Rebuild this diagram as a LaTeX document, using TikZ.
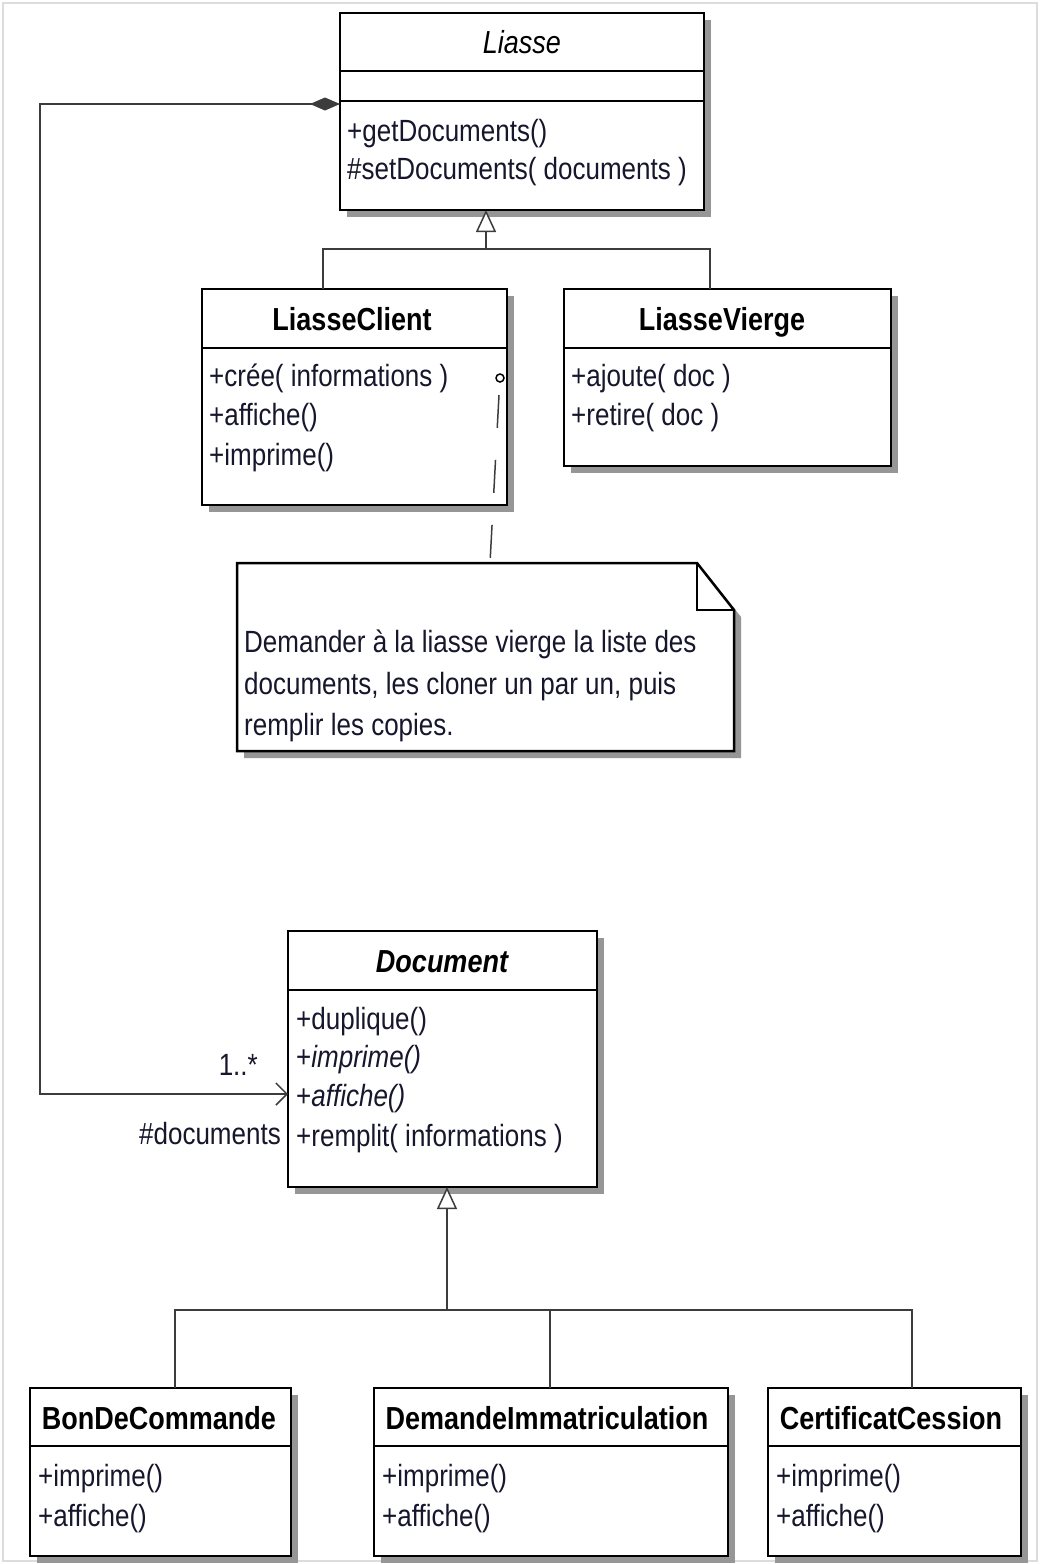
\documentclass[tikz,border=0pt]{standalone}
\usepackage{fontspec}
\usepackage{graphicx}
\setmainfont{Liberation Sans}
\usetikzlibrary{arrows.meta,calc,shadows}
\definecolor{shadowgray}{RGB}{150,150,150}
\definecolor{linegray}{RGB}{60,60,60}
\definecolor{framegray}{RGB}{220,220,220}
\definecolor{txt}{RGB}{22,22,44}
\newcommand{\methfont}{\fontsize{26}{39}\selectfont}
\newcommand{\titlefont}{\fontsize{27}{32}\selectfont}
\newcommand{\tall}[1]{\scalebox{1}[1.18]{#1}}
\newcommand{\umlbox}[5]{\node[classbox, minimum width=#4pt, minimum height=#5pt] (#1) at (#2,#3) {};}
\begin{document}
\begin{tikzpicture}[x=1pt,y=-1pt,
  classbox/.style={draw=black, line width=2.5pt, fill=white, anchor=north west, inner sep=0pt, outer sep=0pt,
    drop shadow={shadow xshift=7pt, shadow yshift=-7pt, fill=shadowgray, opacity=1}},
  divider/.style={draw=black, line width=2.5pt},
  title/.style={inner sep=0pt, font=\titlefont\bfseries, text=black, text height=27pt, text depth=4pt},
  ititle/.style={title, font=\titlefont\itshape},
  meth/.style={anchor=west, inner sep=0pt, font=\methfont, text=txt, text height=20.5pt, text depth=4.5pt},
  lbl/.style={meth, anchor=east},
  conn/.style={draw=linegray, line width=2pt},
  gen/.style={conn, -{Triangle[open, length=22pt, width=20pt, fill=white, line width=1.5pt]}},
  notelink/.style={draw=linegray, line width=1.5pt, dash pattern=on 33pt off 32pt}
]
\useasboundingbox (0,0) rectangle (1040,1564);
\fill[white] (0,0) rectangle (1040,1564);
\draw[framegray, line width=1.5pt] (3,3) rectangle (1037,1561);

% ---------- Liasse ----------
\umlbox{liasse}{340}{13}{364}{197}
\draw[divider] ($(liasse.north west)+(0,58)$) -- ($(liasse.north east)+(0,58)$);
\draw[divider] ($(liasse.north west)+(0,88)$) -- ($(liasse.north east)+(0,88)$);
\node[ititle] (liasseT) at (522,42) {\tall{Liasse}};
\node[meth] (liasseM1) at (347,133) {\tall{+getDocuments()}};
\node[meth] (liasseM2) at (347,171) {\tall{\#setDocuments( documents )}};

% ---------- LiasseClient ----------
\umlbox{lc}{202}{289}{305}{216}
\draw[divider] ($(lc.north west)+(0,59)$) -- ($(lc.north east)+(0,59)$);
\node[title] (lcT) at (352,319) {\tall{LiasseClient}};
\node[meth] (lcM1) at (209,378) {\tall{+crée( informations )}};
\node[meth] (lcM2) at (209,417) {\tall{+affiche()}};
\node[meth] (lcM3) at (209,457) {\tall{+imprime()}};

% ---------- LiasseVierge ----------
\umlbox{lv}{564}{289}{327}{177}
\draw[divider] ($(lv.north west)+(0,59)$) -- ($(lv.north east)+(0,59)$);
\node[title] (lvT) at (722,319) {\tall{LiasseVierge}};
\node[meth] (lvM1) at (571,378) {\tall{+ajoute( doc )}};
\node[meth] (lvM2) at (571,417) {\tall{+retire( doc )}};

% ---------- Note ----------
\node[anchor=north west, inner sep=0pt, outer sep=0pt, minimum width=497pt, minimum height=188pt] (note) at (237,563) {};
\fill[shadowgray] ($(note.north west)+(7,7)$) -- ($(note.north east)+(-30,7)$) -- ($(note.north east)+(7,54)$) -- ($(note.south east)+(7,7)$) -- ($(note.south west)+(7,7)$) -- cycle;
\filldraw[fill=white, draw=black, line width=2.5pt] (note.north west) -- ($(note.north east)+(-37,0)$) -- ($(note.north east)+(0,47)$) -- (note.south east) -- (note.south west) -- cycle;
\draw[black, line width=2pt] ($(note.north east)+(-37,0)$) -- ($(note.north east)+(-37,47)$) -- ($(note.north east)+(0,47)$);
\node[meth] (note1) at (244,644) {\tall{Demander à la liasse vierge la liste des}};
\node[meth] (note2) at (244,686) {\tall{documents, les cloner un par un, puis}};
\node[meth] (note3) at (244,727) {\tall{remplir les copies.}};

% note link
\node[circle, draw=black, line width=1.5pt, fill=white, inner sep=0pt, minimum size=8pt] (anchorpt) at (500,378) {};
\coordinate (noteTop) at (490,563);
\coordinate (linkStart) at (499,395);
\draw[notelink] (linkStart) -- (noteTop);

% ---------- Document ----------
\umlbox{doc}{288}{931}{309}{256}
\draw[divider] ($(doc.north west)+(0,59)$) -- ($(doc.north east)+(0,59)$);
\node[title, font=\titlefont\bfseries\itshape] (docT) at (442,961) {\tall{Document}};
\node[meth] (docM1) at (296,1021) {\tall{+duplique()}};
\node[meth] (docM2) at (296,1059) {\tall{+\textit{imprime()}}};
\node[meth] (docM3) at (296,1098) {\tall{+\textit{affiche()}}};
\node[meth] (docM4) at (296,1138) {\tall{+remplit( informations )}};
\node[lbl] (mult) at (258,1067) {\tall{1..*}};
\node[lbl] (role) at (281,1136) {\tall{\#documents}};

% ---------- Subclasses ----------
\umlbox{bdc}{30}{1388}{261}{168}
\draw[divider] ($(bdc.north west)+(0,58)$) -- ($(bdc.north east)+(0,58)$);
\node[title] (bdcT) at (159,1418) {\tall{BonDeCommande}};
\node[meth] (bdcM1) at (38,1478) {\tall{+imprime()}};
\node[meth] (bdcM2) at (38,1518) {\tall{+affiche()}};

\umlbox{dim}{374}{1388}{354}{168}
\draw[divider] ($(dim.north west)+(0,58)$) -- ($(dim.north east)+(0,58)$);
\node[title] (dimT) at (547,1418) {\tall{DemandeImmatriculation}};
\node[meth] (dimM1) at (382,1478) {\tall{+imprime()}};
\node[meth] (dimM2) at (382,1518) {\tall{+affiche()}};

\umlbox{cc}{768}{1388}{253}{168}
\draw[divider] ($(cc.north west)+(0,58)$) -- ($(cc.north east)+(0,58)$);
\node[title] (ccT) at (891,1418) {\tall{CertificatCession}};
\node[meth] (ccM1) at (776,1478) {\tall{+imprime()}};
\node[meth] (ccM2) at (776,1518) {\tall{+affiche()}};

% ---------- Generalisations ----------
\coordinate (liasseBot) at (486,210);
\coordinate (j1) at (486,249);
\coordinate (lcTop) at (323,289);
\coordinate (lvTop) at (710,289);
\draw[conn] (lcTop) |- (j1) -| (lvTop);
\draw[gen] (j1) -- (liasseBot);

\coordinate (docBot) at (447,1187);
\coordinate (j2) at (447,1310);
\coordinate (bdcTop) at (175,1388);
\coordinate (dimTop) at (550,1388);
\coordinate (ccTop) at (912,1388);
\draw[conn] (bdcTop) |- (j2) -| (ccTop);
\draw[conn] (dimTop) -- (dimTop |- j2);
\draw[gen] (j2) -- (docBot);

% ---------- Composition ----------
\coordinate (liasseLeft) at (340,104);
\coordinate (docLeft) at (288,1094);
\coordinate (corner) at (40,104);
\draw[conn, {Diamond[length=30pt, width=13pt, fill=linegray, line width=1pt]}-{Straight Barb[length=11pt, width=22pt, line width=1.5pt]}]
  (liasseLeft) -- (corner) |- (docLeft);
\end{tikzpicture}
\end{document}
